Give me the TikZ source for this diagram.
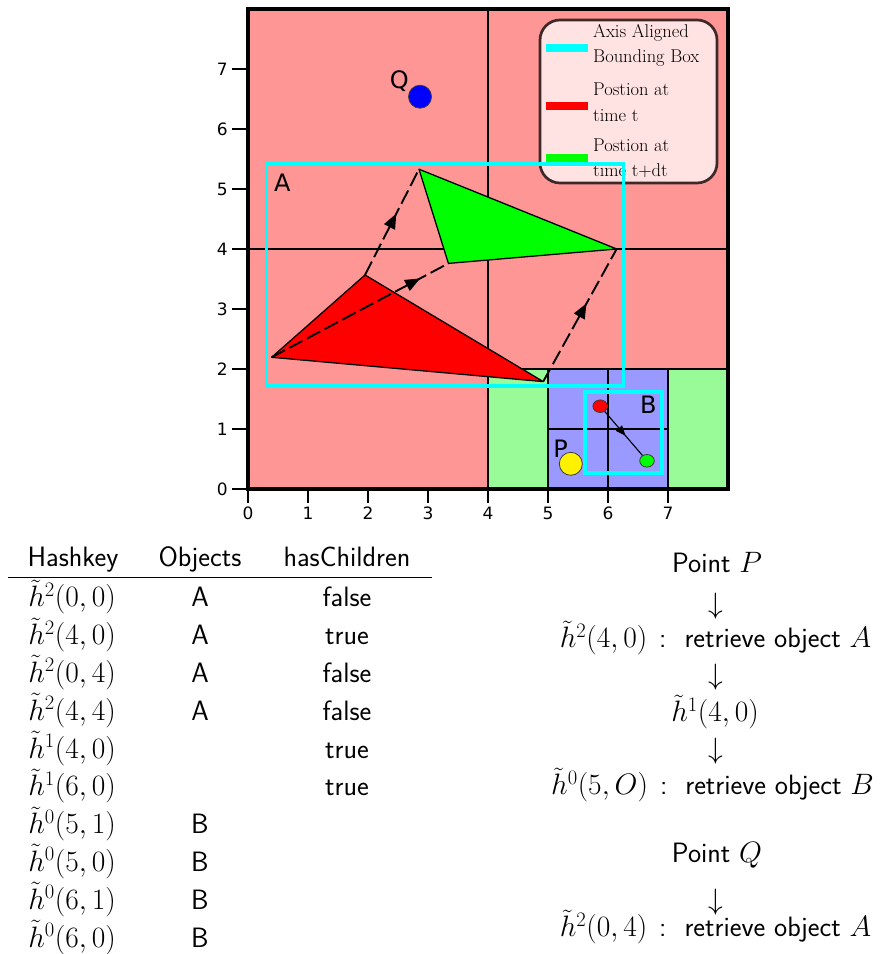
\RequirePackage{fix-cm}
\documentclass[tikz,border=0pt]{standalone}
\usepackage{fontspec}
\newfontfamily\dejavu{DejaVu Sans}
\DeclareMathSizes{28}{29.5}{20.6}{14.7}
\usetikzlibrary{arrows.meta,decorations.markings,shapes.geometric}
\definecolor{regpink}{RGB}{255,150,150}
\definecolor{reggreen}{RGB}{152,251,152}
\definecolor{regblue}{RGB}{153,153,255}
\definecolor{aabb}{RGB}{0,255,255}
\definecolor{legfill}{RGB}{255,226,226}
\definecolor{legdraw}{RGB}{62,40,40}
\definecolor{outl}{RGB}{60,60,60}
\newcommand{\colsep}{\hspace{12pt}:\hspace{18pt}}
\tikzset{
  gridline/.style={line width=2.6pt, draw=black},
  tickline/.style={line width=1.4pt, draw=black},
  ticklabel/.style={font=\dejavu\fontsize{17}{17}\selectfont, inner sep=0pt},
  objlabel/.style={font=\dejavu\fontsize{24}{24}\selectfont, inner sep=0pt},
  aabbbox/.style={draw=aabb, line width=3.5pt},
  tri/.style={draw=black, line width=1.3pt, line join=round},
  motion/.style={draw=black, line width=1.9pt, dash pattern=on 15pt off 5pt,
    postaction={decorate, solid},
    decoration={markings, mark=at position #1 with {\arrow{Triangle[length=15pt,width=12pt]}}}},
  smallmotion/.style={draw=black, line width=1.1pt,
    postaction={decorate},
    decoration={markings, mark=at position #1 with {\arrow{Triangle[length=10pt,width=8pt]}}}},
  legtext/.style={font=\fontsize{18.5}{25.5}\selectfont, align=left, anchor=west, inner sep=0pt},
  legline/.style={line width=8pt},
  dot/.style={circle, draw=outl, line width=0.8pt, minimum size=23pt, inner sep=0pt},
  smalldot/.style={ellipse, draw=outl, line width=0.8pt, minimum width=14.6pt, minimum height=12.6pt, inner sep=0pt},
  tabtext/.style={font=\sffamily\fontsize{28}{28}\selectfont, anchor=base, inner sep=0pt},
  arrowtext/.style={font=\sffamily\fontsize{28}{28}\selectfont, anchor=center, inner sep=0pt},
}
\begin{document}
\begin{tikzpicture}[x=1pt,y=1pt]
\path[use as bounding box] (0,0) rectangle (884,954);

\begin{scope}[shift={(248pt,465pt)}, x=60pt, y=60pt]
  % regions
  \fill[regpink] (0,0) rectangle (4,8);
  \fill[regpink] (4,2) rectangle (8,8);
  \fill[reggreen] (4,0) rectangle (5,2);
  \fill[reggreen] (7,0) rectangle (8,2);
  \fill[regblue] (5,0) rectangle (7,2);
  % grid
  \draw[gridline] (4,0) -- (4,8);
  \draw[gridline] (0,4) -- (8,4);
  \draw[gridline] (4,2) -- (8,2);
  \draw[gridline] (5,0) -- (5,2);
  \draw[gridline] (6,0) -- (6,2);
  \draw[gridline] (7,0) -- (7,2);
  \draw[gridline] (5,1) -- (7,1);
  \draw[line width=3.2pt] (0,0) rectangle (8,8);
  % ticks
  \foreach \i in {0,...,7} {
    \draw[tickline] (\i,0) -- (\i,-0.233);
    \node[ticklabel] (xl\i) at (\i,-0.41) {\i};
    \draw[tickline] (0,\i) -- (-0.267,\i);
    \node[ticklabel] (yl\i) at (-0.43,\i) {\i};
  }
  % legend
  \draw[fill=legfill, draw=legdraw, line width=2.7pt, rounded corners=20pt] (4.867,5.1) rectangle (7.817,7.817);
  \draw[legline, aabb] (4.967,7.35) -- (5.667,7.35);
  \draw[legline, red] (4.967,6.383) -- (5.667,6.383);
  \draw[legline, green] (4.967,5.517) -- (5.667,5.517);
  \node[legtext] (lg1) at (5.75,7.392) {Axis Aligned\\Bounding Box};
  \node[legtext] (lg2) at (5.75,6.442) {Postion at\\time t};
  \node[legtext] (lg3) at (5.75,5.508) {Postion at\\time t+dt};
  % triangles
  \coordinate (r1) at (0.394,2.195);
  \coordinate (r2) at (1.95,3.567);
  \coordinate (r3) at (4.92,1.79);
  \coordinate (g1) at (2.85,5.33);
  \coordinate (g2) at (3.34,3.76);
  \coordinate (g3) at (6.144,4.0);
  \filldraw[tri, fill=red] (r1) -- (r2) -- (r3) -- cycle;
  \filldraw[tri, fill=green] (g1) -- (g2) -- (g3) -- cycle;
  \draw[motion=0.58] (r2) -- (g1);
  \draw[motion=0.84] (r1) -- (g2);
  \draw[motion=0.59] (r3) -- (g3);
  % bounding boxes
  \draw[aabbbox] (0.31,1.717) rectangle (6.256,5.417);
  \draw[aabbbox] (5.62,0.27) rectangle (6.9,1.62);
  % points
  \node[dot, fill=blue] (q) at (2.867,6.538) {};
  \node[dot, fill=yellow] (p) at (5.38,0.42) {};
  \node[smalldot, fill=red] (br) at (5.87,1.38) {};
  \node[smalldot, fill=green] (bg) at (6.65,0.47) {};
  \draw[smallmotion=0.55] (br) -- (bg);
  % labels
  \node[objlabel] (lq) at (2.52,6.805) {Q};
  \node[objlabel] (la) at (0.572,5.105) {A};
  \node[objlabel] (lp) at (5.21,0.678) {P};
  \node[objlabel] (lb) at (6.672,1.4) {B};
\end{scope}

% table
\node[tabtext] (h1) at (73,387) {Hashkey};
\node[tabtext] (h2) at (200,387) {Objects};
\node[tabtext] (h3) at (347,387) {hasChildren};
\coordinate (rulel) at (8,376);
\coordinate (ruler) at (432,376);
\draw[line width=1pt] (rulel) -- (ruler);

\node[tabtext] (k1) at (72,347) {$\tilde{h}^2(0,0)$};
\node[tabtext] (o1) at (200,347) {A};
\node[tabtext] (c1) at (347,347) {false};
\node[tabtext] (k2) at (72,309.2) {$\tilde{h}^2(4,0)$};
\node[tabtext] (o2) at (200,309.2) {A};
\node[tabtext] (c2) at (347,309.2) {true};
\node[tabtext] (k3) at (72,271.4) {$\tilde{h}^2(0,4)$};
\node[tabtext] (o3) at (200,271.4) {A};
\node[tabtext] (c3) at (347,271.4) {false};
\node[tabtext] (k4) at (72,233.6) {$\tilde{h}^2(4,4)$};
\node[tabtext] (o4) at (200,233.6) {A};
\node[tabtext] (c4) at (347,233.6) {false};
\node[tabtext] (k5) at (72,195.8) {$\tilde{h}^1(4,0)$};
\node[tabtext] (c5) at (347,195.8) {true};
\node[tabtext] (k6) at (72,158) {$\tilde{h}^1(6,0)$};
\node[tabtext] (c6) at (347,158) {true};
\node[tabtext] (k7) at (72,120.2) {$\tilde{h}^0(5,1)$};
\node[tabtext] (o7) at (200,120.2) {B};
\node[tabtext] (k8) at (72,82.4) {$\tilde{h}^0(5,0)$};
\node[tabtext] (o8) at (200,82.4) {B};
\node[tabtext] (k9) at (72,44.6) {$\tilde{h}^0(6,1)$};
\node[tabtext] (o9) at (200,44.6) {B};
\node[tabtext] (k10) at (72,6.8) {$\tilde{h}^0(6,0)$};
\node[tabtext] (o10) at (200,6.8) {B};

% right column
\node[tabtext] (pp) at (717,381) {Point $P$};
\node[arrowtext] (a1) at (716,348) {$\downarrow$};
\node[tabtext] (s1) at (715.5,306) {$\tilde{h}^2(4,0)$\colsep retrieve object $A$};
\node[arrowtext] (a2) at (716,277) {$\downarrow$};
\node[tabtext] (s2) at (715,232) {$\tilde{h}^1(4,0)$};
\node[arrowtext] (a3) at (716,203) {$\downarrow$};
\node[tabtext] (s3) at (712.5,159) {$\tilde{h}^0(5,O)$\colsep retrieve object $B$};
\node[tabtext] (pq) at (717,91) {Point $Q$};
\node[arrowtext] (a4) at (716,52) {$\downarrow$};
\node[tabtext] (s4) at (715.5,17) {$\tilde{h}^2(0,4)$\colsep retrieve object $A$};
\end{tikzpicture}
\end{document}
